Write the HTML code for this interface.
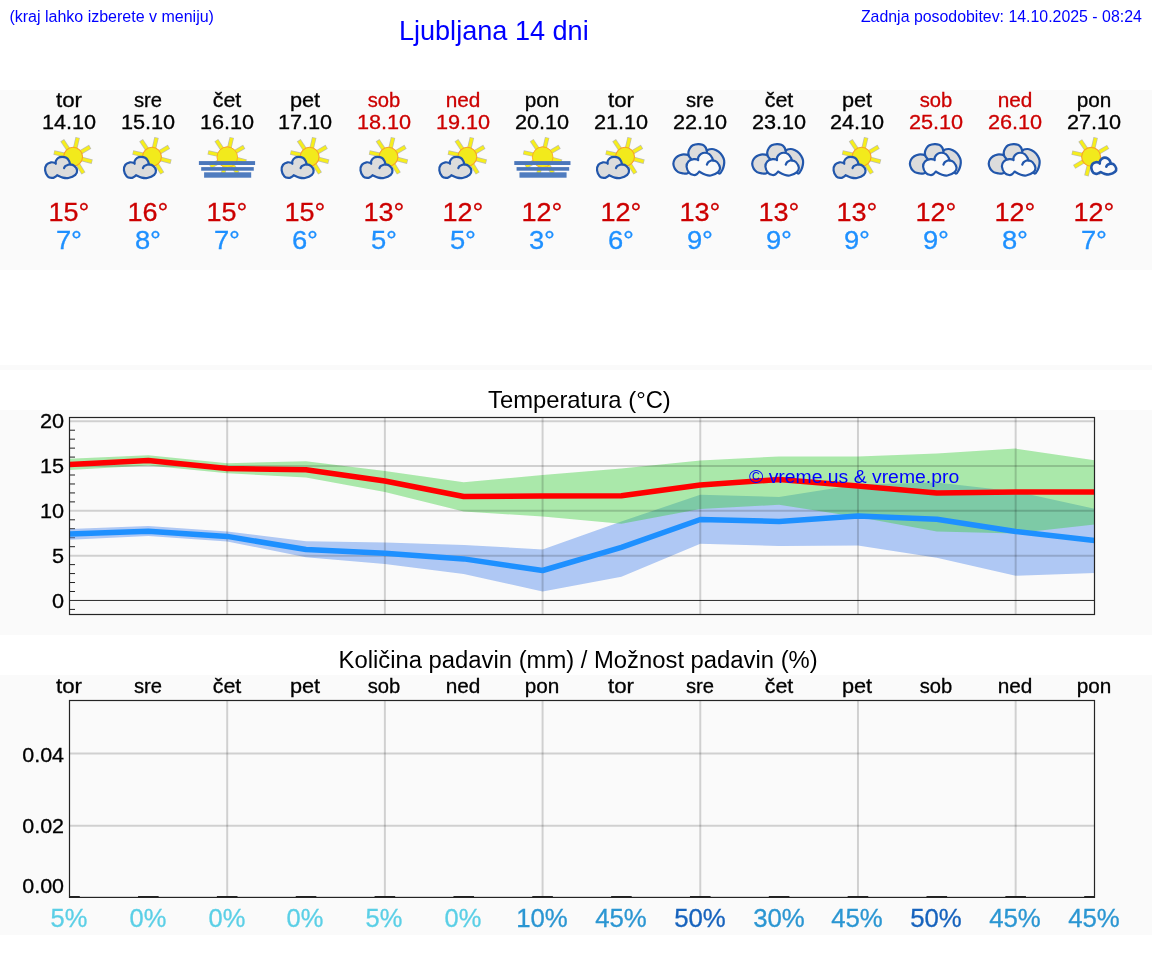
<!DOCTYPE html>
<html><head><meta charset="utf-8"><title>Ljubljana 14 dni</title>
<style>
html,body{margin:0;padding:0;background:#fff;}
body{width:1152px;height:975px;position:relative;overflow:hidden;font-family:"Liberation Sans",sans-serif;}
.p{position:absolute;left:0;width:1152px;background:#fafafa;}
.t{position:absolute;white-space:nowrap;line-height:1;margin:0;padding:0;}
.c{transform-origin:50% 50%;text-align:center;-webkit-text-stroke:0.3px;}
.r{transform-origin:100% 50%;text-align:right;-webkit-text-stroke:0.3px;}
.b{color:#0000ff;}
svg{position:absolute;left:0;top:0;}
#txt{position:absolute;left:0;top:0;width:1152px;height:975px;will-change:transform;}
</style></head><body>

<div class="p" style="top:90px;height:180px"></div>
<div class="p" style="top:365px;height:5px"></div>
<div class="p" style="top:410px;height:225px"></div>
<div class="p" style="top:675px;height:260px"></div>
<svg width="1152" height="975" viewBox="0 0 1152 975">
<defs><filter id="soft" x="-10%" y="-10%" width="120%" height="120%"><feGaussianBlur stdDeviation="0.4"/></filter></defs>
<g filter="url(#soft)">
<g transform="translate(69.50,134)"><g transform="translate(3.6,22.7)"><g stroke="#7f7f66" stroke-opacity="0.5" stroke-width="4.5"><line x1="7.7" y1="2.0" x2="19.1" y2="5.0"/><line x1="4.2" y1="6.8" x2="10.4" y2="16.7"/><line x1="-1.9" y1="7.8" x2="-4.7" y2="19.1"/><line x1="-6.9" y1="4.1" x2="-16.9" y2="10.1"/><line x1="-7.8" y1="-1.7" x2="-19.2" y2="-4.2"/><line x1="-4.4" y1="-6.7" x2="-10.9" y2="-16.4"/><line x1="1.9" y1="-7.8" x2="4.6" y2="-19.2"/><line x1="6.9" y1="-4.0" x2="17.0" y2="-9.9"/></g><g stroke="#f6ee1a" stroke-width="3.1"><line x1="7.7" y1="2.0" x2="18.5" y2="4.8"/><line x1="4.2" y1="6.8" x2="10.1" y2="16.2"/><line x1="-1.9" y1="7.8" x2="-4.5" y2="18.6"/><line x1="-6.9" y1="4.1" x2="-16.4" y2="9.8"/><line x1="-7.8" y1="-1.7" x2="-18.7" y2="-4.1"/><line x1="-4.4" y1="-6.7" x2="-10.5" y2="-15.9"/><line x1="1.9" y1="-7.8" x2="4.5" y2="-18.6"/><line x1="6.9" y1="-4.0" x2="16.5" y2="-9.6"/></g><circle r="9.45" fill="#f2ea1e" stroke="#f7a428" stroke-width="1.1"/></g><g stroke="#2056ab" stroke-width="2.2" stroke-linejoin="round" stroke-linecap="round"><path d="M-12.22,41.18C-12.63,41.50 -13.78,42.63 -14.65,43.09C-15.52,43.55 -16.27,44.05 -17.43,43.96C-18.59,43.87 -20.44,43.84 -21.60,42.57C-22.75,41.30 -24.14,38.29 -24.38,36.32C-24.61,34.35 -23.97,32.09 -22.99,30.76C-22.00,29.43 -19.86,28.65 -18.47,28.33C-17.08,28.02 -15.45,28.62 -14.65,28.85C-13.86,29.09 -13.87,29.58 -13.72,29.72C-13.70,29.26 -14.03,27.93 -13.61,26.94C-13.19,25.96 -12.22,24.48 -11.18,23.82C-10.14,23.15 -8.69,22.95 -7.36,22.95C-6.03,22.95 -4.35,23.15 -3.19,23.82C-2.04,24.48 -1.05,25.84 -0.42,26.94C0.22,28.04 0.45,29.84 0.62,30.42C1.72,30.56 3.63,30.82 4.79,31.81C5.95,32.79 7.40,34.81 7.57,36.32C7.74,37.82 7.28,39.56 5.83,40.83C4.39,42.11 0.97,43.50 -1.11,43.96C-3.19,44.42 -4.81,44.07 -6.67,43.61C-8.52,43.15 -11.30,41.59 -12.22,41.18Z" fill="#dcdcdc"/><path d="M-5.45,34.06C-5.25,33.74 -4.84,32.67 -4.24,32.15C-3.63,31.63 -2.62,31.23 -1.81,30.94C-1.00,30.65 -0.47,30.27 0.62,30.42" fill="none"/></g></g>
<g transform="translate(148.35,134)"><g transform="translate(3.6,22.7)"><g stroke="#7f7f66" stroke-opacity="0.5" stroke-width="4.5"><line x1="7.7" y1="2.0" x2="19.1" y2="5.0"/><line x1="4.2" y1="6.8" x2="10.4" y2="16.7"/><line x1="-1.9" y1="7.8" x2="-4.7" y2="19.1"/><line x1="-6.9" y1="4.1" x2="-16.9" y2="10.1"/><line x1="-7.8" y1="-1.7" x2="-19.2" y2="-4.2"/><line x1="-4.4" y1="-6.7" x2="-10.9" y2="-16.4"/><line x1="1.9" y1="-7.8" x2="4.6" y2="-19.2"/><line x1="6.9" y1="-4.0" x2="17.0" y2="-9.9"/></g><g stroke="#f6ee1a" stroke-width="3.1"><line x1="7.7" y1="2.0" x2="18.5" y2="4.8"/><line x1="4.2" y1="6.8" x2="10.1" y2="16.2"/><line x1="-1.9" y1="7.8" x2="-4.5" y2="18.6"/><line x1="-6.9" y1="4.1" x2="-16.4" y2="9.8"/><line x1="-7.8" y1="-1.7" x2="-18.7" y2="-4.1"/><line x1="-4.4" y1="-6.7" x2="-10.5" y2="-15.9"/><line x1="1.9" y1="-7.8" x2="4.5" y2="-18.6"/><line x1="6.9" y1="-4.0" x2="16.5" y2="-9.6"/></g><circle r="9.45" fill="#f2ea1e" stroke="#f7a428" stroke-width="1.1"/></g><g stroke="#2056ab" stroke-width="2.2" stroke-linejoin="round" stroke-linecap="round"><path d="M-12.22,41.18C-12.63,41.50 -13.78,42.63 -14.65,43.09C-15.52,43.55 -16.27,44.05 -17.43,43.96C-18.59,43.87 -20.44,43.84 -21.60,42.57C-22.75,41.30 -24.14,38.29 -24.38,36.32C-24.61,34.35 -23.97,32.09 -22.99,30.76C-22.00,29.43 -19.86,28.65 -18.47,28.33C-17.08,28.02 -15.45,28.62 -14.65,28.85C-13.86,29.09 -13.87,29.58 -13.72,29.72C-13.70,29.26 -14.03,27.93 -13.61,26.94C-13.19,25.96 -12.22,24.48 -11.18,23.82C-10.14,23.15 -8.69,22.95 -7.36,22.95C-6.03,22.95 -4.35,23.15 -3.19,23.82C-2.04,24.48 -1.05,25.84 -0.42,26.94C0.22,28.04 0.45,29.84 0.62,30.42C1.72,30.56 3.63,30.82 4.79,31.81C5.95,32.79 7.40,34.81 7.57,36.32C7.74,37.82 7.28,39.56 5.83,40.83C4.39,42.11 0.97,43.50 -1.11,43.96C-3.19,44.42 -4.81,44.07 -6.67,43.61C-8.52,43.15 -11.30,41.59 -12.22,41.18Z" fill="#dcdcdc"/><path d="M-5.45,34.06C-5.25,33.74 -4.84,32.67 -4.24,32.15C-3.63,31.63 -2.62,31.23 -1.81,30.94C-1.00,30.65 -0.47,30.27 0.62,30.42" fill="none"/></g></g>
<g transform="translate(227.19,134)"><g transform="translate(0,22.6)"><g stroke="#7f7f66" stroke-opacity="0.5" stroke-width="4.5"><line x1="7.7" y1="2.0" x2="19.1" y2="5.0"/><line x1="4.2" y1="6.8" x2="10.4" y2="16.7"/><line x1="-1.9" y1="7.8" x2="-4.7" y2="19.1"/><line x1="-6.9" y1="4.1" x2="-16.9" y2="10.1"/><line x1="-7.8" y1="-1.7" x2="-19.2" y2="-4.2"/><line x1="-4.4" y1="-6.7" x2="-10.9" y2="-16.4"/><line x1="1.9" y1="-7.8" x2="4.6" y2="-19.2"/><line x1="6.9" y1="-4.0" x2="17.0" y2="-9.9"/></g><g stroke="#f6ee1a" stroke-width="3.1"><line x1="7.7" y1="2.0" x2="18.5" y2="4.8"/><line x1="4.2" y1="6.8" x2="10.1" y2="16.2"/><line x1="-1.9" y1="7.8" x2="-4.5" y2="18.6"/><line x1="-6.9" y1="4.1" x2="-16.4" y2="9.8"/><line x1="-7.8" y1="-1.7" x2="-18.7" y2="-4.1"/><line x1="-4.4" y1="-6.7" x2="-10.5" y2="-15.9"/><line x1="1.9" y1="-7.8" x2="4.5" y2="-18.6"/><line x1="6.9" y1="-4.0" x2="16.5" y2="-9.6"/></g><circle r="9.45" fill="#f2ea1e" stroke="#f7a428" stroke-width="1.1"/></g><circle cx="0.1" cy="23.2" r="10.3" fill="#f2ea1e" stroke="#f8a92a" stroke-width="0.9"/><rect x="-28.3" y="27.1" width="56.2" height="3.9" fill="#4b77bb"/><rect x="-26.0" y="33.1" width="52.6" height="3.6" fill="#4b77bb"/><rect x="-23.1" y="38.3" width="47.1" height="5.4" fill="#4f7cbf"/></g>
<g transform="translate(306.04,134)"><g transform="translate(3.6,22.7)"><g stroke="#7f7f66" stroke-opacity="0.5" stroke-width="4.5"><line x1="7.7" y1="2.0" x2="19.1" y2="5.0"/><line x1="4.2" y1="6.8" x2="10.4" y2="16.7"/><line x1="-1.9" y1="7.8" x2="-4.7" y2="19.1"/><line x1="-6.9" y1="4.1" x2="-16.9" y2="10.1"/><line x1="-7.8" y1="-1.7" x2="-19.2" y2="-4.2"/><line x1="-4.4" y1="-6.7" x2="-10.9" y2="-16.4"/><line x1="1.9" y1="-7.8" x2="4.6" y2="-19.2"/><line x1="6.9" y1="-4.0" x2="17.0" y2="-9.9"/></g><g stroke="#f6ee1a" stroke-width="3.1"><line x1="7.7" y1="2.0" x2="18.5" y2="4.8"/><line x1="4.2" y1="6.8" x2="10.1" y2="16.2"/><line x1="-1.9" y1="7.8" x2="-4.5" y2="18.6"/><line x1="-6.9" y1="4.1" x2="-16.4" y2="9.8"/><line x1="-7.8" y1="-1.7" x2="-18.7" y2="-4.1"/><line x1="-4.4" y1="-6.7" x2="-10.5" y2="-15.9"/><line x1="1.9" y1="-7.8" x2="4.5" y2="-18.6"/><line x1="6.9" y1="-4.0" x2="16.5" y2="-9.6"/></g><circle r="9.45" fill="#f2ea1e" stroke="#f7a428" stroke-width="1.1"/></g><g stroke="#2056ab" stroke-width="2.2" stroke-linejoin="round" stroke-linecap="round"><path d="M-12.22,41.18C-12.63,41.50 -13.78,42.63 -14.65,43.09C-15.52,43.55 -16.27,44.05 -17.43,43.96C-18.59,43.87 -20.44,43.84 -21.60,42.57C-22.75,41.30 -24.14,38.29 -24.38,36.32C-24.61,34.35 -23.97,32.09 -22.99,30.76C-22.00,29.43 -19.86,28.65 -18.47,28.33C-17.08,28.02 -15.45,28.62 -14.65,28.85C-13.86,29.09 -13.87,29.58 -13.72,29.72C-13.70,29.26 -14.03,27.93 -13.61,26.94C-13.19,25.96 -12.22,24.48 -11.18,23.82C-10.14,23.15 -8.69,22.95 -7.36,22.95C-6.03,22.95 -4.35,23.15 -3.19,23.82C-2.04,24.48 -1.05,25.84 -0.42,26.94C0.22,28.04 0.45,29.84 0.62,30.42C1.72,30.56 3.63,30.82 4.79,31.81C5.95,32.79 7.40,34.81 7.57,36.32C7.74,37.82 7.28,39.56 5.83,40.83C4.39,42.11 0.97,43.50 -1.11,43.96C-3.19,44.42 -4.81,44.07 -6.67,43.61C-8.52,43.15 -11.30,41.59 -12.22,41.18Z" fill="#dcdcdc"/><path d="M-5.45,34.06C-5.25,33.74 -4.84,32.67 -4.24,32.15C-3.63,31.63 -2.62,31.23 -1.81,30.94C-1.00,30.65 -0.47,30.27 0.62,30.42" fill="none"/></g></g>
<g transform="translate(384.88,134)"><g transform="translate(3.6,22.7)"><g stroke="#7f7f66" stroke-opacity="0.5" stroke-width="4.5"><line x1="7.7" y1="2.0" x2="19.1" y2="5.0"/><line x1="4.2" y1="6.8" x2="10.4" y2="16.7"/><line x1="-1.9" y1="7.8" x2="-4.7" y2="19.1"/><line x1="-6.9" y1="4.1" x2="-16.9" y2="10.1"/><line x1="-7.8" y1="-1.7" x2="-19.2" y2="-4.2"/><line x1="-4.4" y1="-6.7" x2="-10.9" y2="-16.4"/><line x1="1.9" y1="-7.8" x2="4.6" y2="-19.2"/><line x1="6.9" y1="-4.0" x2="17.0" y2="-9.9"/></g><g stroke="#f6ee1a" stroke-width="3.1"><line x1="7.7" y1="2.0" x2="18.5" y2="4.8"/><line x1="4.2" y1="6.8" x2="10.1" y2="16.2"/><line x1="-1.9" y1="7.8" x2="-4.5" y2="18.6"/><line x1="-6.9" y1="4.1" x2="-16.4" y2="9.8"/><line x1="-7.8" y1="-1.7" x2="-18.7" y2="-4.1"/><line x1="-4.4" y1="-6.7" x2="-10.5" y2="-15.9"/><line x1="1.9" y1="-7.8" x2="4.5" y2="-18.6"/><line x1="6.9" y1="-4.0" x2="16.5" y2="-9.6"/></g><circle r="9.45" fill="#f2ea1e" stroke="#f7a428" stroke-width="1.1"/></g><g stroke="#2056ab" stroke-width="2.2" stroke-linejoin="round" stroke-linecap="round"><path d="M-12.22,41.18C-12.63,41.50 -13.78,42.63 -14.65,43.09C-15.52,43.55 -16.27,44.05 -17.43,43.96C-18.59,43.87 -20.44,43.84 -21.60,42.57C-22.75,41.30 -24.14,38.29 -24.38,36.32C-24.61,34.35 -23.97,32.09 -22.99,30.76C-22.00,29.43 -19.86,28.65 -18.47,28.33C-17.08,28.02 -15.45,28.62 -14.65,28.85C-13.86,29.09 -13.87,29.58 -13.72,29.72C-13.70,29.26 -14.03,27.93 -13.61,26.94C-13.19,25.96 -12.22,24.48 -11.18,23.82C-10.14,23.15 -8.69,22.95 -7.36,22.95C-6.03,22.95 -4.35,23.15 -3.19,23.82C-2.04,24.48 -1.05,25.84 -0.42,26.94C0.22,28.04 0.45,29.84 0.62,30.42C1.72,30.56 3.63,30.82 4.79,31.81C5.95,32.79 7.40,34.81 7.57,36.32C7.74,37.82 7.28,39.56 5.83,40.83C4.39,42.11 0.97,43.50 -1.11,43.96C-3.19,44.42 -4.81,44.07 -6.67,43.61C-8.52,43.15 -11.30,41.59 -12.22,41.18Z" fill="#dcdcdc"/><path d="M-5.45,34.06C-5.25,33.74 -4.84,32.67 -4.24,32.15C-3.63,31.63 -2.62,31.23 -1.81,30.94C-1.00,30.65 -0.47,30.27 0.62,30.42" fill="none"/></g></g>
<g transform="translate(463.73,134)"><g transform="translate(3.6,22.7)"><g stroke="#7f7f66" stroke-opacity="0.5" stroke-width="4.5"><line x1="7.7" y1="2.0" x2="19.1" y2="5.0"/><line x1="4.2" y1="6.8" x2="10.4" y2="16.7"/><line x1="-1.9" y1="7.8" x2="-4.7" y2="19.1"/><line x1="-6.9" y1="4.1" x2="-16.9" y2="10.1"/><line x1="-7.8" y1="-1.7" x2="-19.2" y2="-4.2"/><line x1="-4.4" y1="-6.7" x2="-10.9" y2="-16.4"/><line x1="1.9" y1="-7.8" x2="4.6" y2="-19.2"/><line x1="6.9" y1="-4.0" x2="17.0" y2="-9.9"/></g><g stroke="#f6ee1a" stroke-width="3.1"><line x1="7.7" y1="2.0" x2="18.5" y2="4.8"/><line x1="4.2" y1="6.8" x2="10.1" y2="16.2"/><line x1="-1.9" y1="7.8" x2="-4.5" y2="18.6"/><line x1="-6.9" y1="4.1" x2="-16.4" y2="9.8"/><line x1="-7.8" y1="-1.7" x2="-18.7" y2="-4.1"/><line x1="-4.4" y1="-6.7" x2="-10.5" y2="-15.9"/><line x1="1.9" y1="-7.8" x2="4.5" y2="-18.6"/><line x1="6.9" y1="-4.0" x2="16.5" y2="-9.6"/></g><circle r="9.45" fill="#f2ea1e" stroke="#f7a428" stroke-width="1.1"/></g><g stroke="#2056ab" stroke-width="2.2" stroke-linejoin="round" stroke-linecap="round"><path d="M-12.22,41.18C-12.63,41.50 -13.78,42.63 -14.65,43.09C-15.52,43.55 -16.27,44.05 -17.43,43.96C-18.59,43.87 -20.44,43.84 -21.60,42.57C-22.75,41.30 -24.14,38.29 -24.38,36.32C-24.61,34.35 -23.97,32.09 -22.99,30.76C-22.00,29.43 -19.86,28.65 -18.47,28.33C-17.08,28.02 -15.45,28.62 -14.65,28.85C-13.86,29.09 -13.87,29.58 -13.72,29.72C-13.70,29.26 -14.03,27.93 -13.61,26.94C-13.19,25.96 -12.22,24.48 -11.18,23.82C-10.14,23.15 -8.69,22.95 -7.36,22.95C-6.03,22.95 -4.35,23.15 -3.19,23.82C-2.04,24.48 -1.05,25.84 -0.42,26.94C0.22,28.04 0.45,29.84 0.62,30.42C1.72,30.56 3.63,30.82 4.79,31.81C5.95,32.79 7.40,34.81 7.57,36.32C7.74,37.82 7.28,39.56 5.83,40.83C4.39,42.11 0.97,43.50 -1.11,43.96C-3.19,44.42 -4.81,44.07 -6.67,43.61C-8.52,43.15 -11.30,41.59 -12.22,41.18Z" fill="#dcdcdc"/><path d="M-5.45,34.06C-5.25,33.74 -4.84,32.67 -4.24,32.15C-3.63,31.63 -2.62,31.23 -1.81,30.94C-1.00,30.65 -0.47,30.27 0.62,30.42" fill="none"/></g></g>
<g transform="translate(542.58,134)"><g transform="translate(0,22.6)"><g stroke="#7f7f66" stroke-opacity="0.5" stroke-width="4.5"><line x1="7.7" y1="2.0" x2="19.1" y2="5.0"/><line x1="4.2" y1="6.8" x2="10.4" y2="16.7"/><line x1="-1.9" y1="7.8" x2="-4.7" y2="19.1"/><line x1="-6.9" y1="4.1" x2="-16.9" y2="10.1"/><line x1="-7.8" y1="-1.7" x2="-19.2" y2="-4.2"/><line x1="-4.4" y1="-6.7" x2="-10.9" y2="-16.4"/><line x1="1.9" y1="-7.8" x2="4.6" y2="-19.2"/><line x1="6.9" y1="-4.0" x2="17.0" y2="-9.9"/></g><g stroke="#f6ee1a" stroke-width="3.1"><line x1="7.7" y1="2.0" x2="18.5" y2="4.8"/><line x1="4.2" y1="6.8" x2="10.1" y2="16.2"/><line x1="-1.9" y1="7.8" x2="-4.5" y2="18.6"/><line x1="-6.9" y1="4.1" x2="-16.4" y2="9.8"/><line x1="-7.8" y1="-1.7" x2="-18.7" y2="-4.1"/><line x1="-4.4" y1="-6.7" x2="-10.5" y2="-15.9"/><line x1="1.9" y1="-7.8" x2="4.5" y2="-18.6"/><line x1="6.9" y1="-4.0" x2="16.5" y2="-9.6"/></g><circle r="9.45" fill="#f2ea1e" stroke="#f7a428" stroke-width="1.1"/></g><circle cx="0.1" cy="23.2" r="10.3" fill="#f2ea1e" stroke="#f8a92a" stroke-width="0.9"/><rect x="-28.3" y="27.1" width="56.2" height="3.9" fill="#4b77bb"/><rect x="-26.0" y="33.1" width="52.6" height="3.6" fill="#4b77bb"/><rect x="-23.1" y="38.3" width="47.1" height="5.4" fill="#4f7cbf"/></g>
<g transform="translate(621.42,134)"><g transform="translate(3.6,22.7)"><g stroke="#7f7f66" stroke-opacity="0.5" stroke-width="4.5"><line x1="7.7" y1="2.0" x2="19.1" y2="5.0"/><line x1="4.2" y1="6.8" x2="10.4" y2="16.7"/><line x1="-1.9" y1="7.8" x2="-4.7" y2="19.1"/><line x1="-6.9" y1="4.1" x2="-16.9" y2="10.1"/><line x1="-7.8" y1="-1.7" x2="-19.2" y2="-4.2"/><line x1="-4.4" y1="-6.7" x2="-10.9" y2="-16.4"/><line x1="1.9" y1="-7.8" x2="4.6" y2="-19.2"/><line x1="6.9" y1="-4.0" x2="17.0" y2="-9.9"/></g><g stroke="#f6ee1a" stroke-width="3.1"><line x1="7.7" y1="2.0" x2="18.5" y2="4.8"/><line x1="4.2" y1="6.8" x2="10.1" y2="16.2"/><line x1="-1.9" y1="7.8" x2="-4.5" y2="18.6"/><line x1="-6.9" y1="4.1" x2="-16.4" y2="9.8"/><line x1="-7.8" y1="-1.7" x2="-18.7" y2="-4.1"/><line x1="-4.4" y1="-6.7" x2="-10.5" y2="-15.9"/><line x1="1.9" y1="-7.8" x2="4.5" y2="-18.6"/><line x1="6.9" y1="-4.0" x2="16.5" y2="-9.6"/></g><circle r="9.45" fill="#f2ea1e" stroke="#f7a428" stroke-width="1.1"/></g><g stroke="#2056ab" stroke-width="2.2" stroke-linejoin="round" stroke-linecap="round"><path d="M-12.22,41.18C-12.63,41.50 -13.78,42.63 -14.65,43.09C-15.52,43.55 -16.27,44.05 -17.43,43.96C-18.59,43.87 -20.44,43.84 -21.60,42.57C-22.75,41.30 -24.14,38.29 -24.38,36.32C-24.61,34.35 -23.97,32.09 -22.99,30.76C-22.00,29.43 -19.86,28.65 -18.47,28.33C-17.08,28.02 -15.45,28.62 -14.65,28.85C-13.86,29.09 -13.87,29.58 -13.72,29.72C-13.70,29.26 -14.03,27.93 -13.61,26.94C-13.19,25.96 -12.22,24.48 -11.18,23.82C-10.14,23.15 -8.69,22.95 -7.36,22.95C-6.03,22.95 -4.35,23.15 -3.19,23.82C-2.04,24.48 -1.05,25.84 -0.42,26.94C0.22,28.04 0.45,29.84 0.62,30.42C1.72,30.56 3.63,30.82 4.79,31.81C5.95,32.79 7.40,34.81 7.57,36.32C7.74,37.82 7.28,39.56 5.83,40.83C4.39,42.11 0.97,43.50 -1.11,43.96C-3.19,44.42 -4.81,44.07 -6.67,43.61C-8.52,43.15 -11.30,41.59 -12.22,41.18Z" fill="#dcdcdc"/><path d="M-5.45,34.06C-5.25,33.74 -4.84,32.67 -4.24,32.15C-3.63,31.63 -2.62,31.23 -1.81,30.94C-1.00,30.65 -0.47,30.27 0.62,30.42" fill="none"/></g></g>
<g transform="translate(700.27,134)"><g stroke="#2056ab" stroke-width="2.2" stroke-linejoin="round" stroke-linecap="round"><path d="M-9.90,37.11C-10.47,37.52 -12.09,39.16 -13.31,39.54C-14.52,39.92 -15.74,39.64 -17.20,39.40C-18.65,39.16 -20.68,38.87 -22.06,38.09C-23.44,37.30 -24.65,36.06 -25.46,34.68C-26.27,33.31 -26.88,31.36 -26.92,29.82C-26.96,28.28 -26.43,26.70 -25.70,25.45C-24.97,24.19 -23.80,23.10 -22.54,22.29C-21.29,21.48 -19.63,20.85 -18.17,20.58C-16.71,20.32 -14.89,20.54 -13.79,20.68C-12.70,20.83 -11.97,21.33 -11.61,21.46C-11.65,20.91 -12.05,19.35 -11.85,18.15C-11.65,16.95 -11.12,15.40 -10.39,14.26C-9.66,13.13 -8.85,12.04 -7.47,11.35C-6.10,10.66 -3.75,10.21 -2.13,10.13C-0.51,10.05 1.03,10.33 2.25,10.86C3.46,11.39 4.45,12.36 5.17,13.29C5.88,14.22 6.30,15.93 6.53,16.45C7.03,16.25 8.39,15.44 9.54,15.24C10.69,15.03 11.97,14.83 13.43,15.24C14.89,15.64 16.83,16.53 18.29,17.67C19.75,18.80 21.25,20.58 22.18,22.04C23.11,23.50 23.64,24.88 23.88,26.42C24.13,27.96 23.92,29.74 23.64,31.28C23.36,32.82 22.91,34.28 22.18,35.65C21.45,37.03 20.56,39.63 19.26,39.54C17.97,39.46 15.21,35.90 14.40,35.17Z" fill="#dcdcdc"/><path d="M-11.61,21.46C-11.44,21.76 -11.04,22.72 -10.63,23.26C-10.23,23.80 -9.42,24.47 -9.17,24.72M6.53,16.45C6.54,16.65 6.65,17.26 6.62,17.67C6.60,18.07 6.42,18.68 6.38,18.88" fill="none"/></g><g stroke="#2056ab" stroke-width="2.2" stroke-linejoin="round" stroke-linecap="round"><path d="M-1.01,37.60C-1.44,38.05 -2.67,39.71 -3.58,40.27C-4.50,40.84 -5.29,41.20 -6.50,41.00C-7.72,40.80 -9.68,40.44 -10.88,39.06C-12.08,37.68 -13.53,34.68 -13.70,32.74C-13.86,30.79 -13.05,28.65 -11.85,27.39C-10.65,26.13 -7.96,25.51 -6.50,25.20C-5.04,24.89 -3.83,25.38 -3.10,25.54C-2.37,25.71 -2.29,26.07 -2.13,26.18C-2.09,25.65 -2.37,24.07 -1.88,23.02C-1.40,21.96 -0.30,20.57 0.79,19.86C1.88,19.14 3.30,18.70 4.68,18.74C6.06,18.78 7.84,19.22 9.06,20.10C10.27,20.97 11.41,22.93 11.97,23.99C12.54,25.04 12.38,26.01 12.46,26.42C14.00,26.56 15.70,26.89 16.83,28.12C17.97,29.35 19.59,32.05 19.75,33.71C19.91,35.37 19.35,36.79 17.81,38.09C16.27,39.38 12.70,41.08 10.51,41.49C8.33,41.89 6.60,41.16 4.68,40.52C2.76,39.87 -0.06,38.09 -1.01,37.60Z" fill="#fafafa"/><path d="M6.62,30.55C6.87,30.15 7.43,28.77 8.08,28.12C8.73,27.47 9.70,26.96 10.51,26.66C11.32,26.36 11.89,26.08 12.94,26.32" fill="none"/></g></g>
<g transform="translate(779.12,134)"><g stroke="#2056ab" stroke-width="2.2" stroke-linejoin="round" stroke-linecap="round"><path d="M-9.90,37.11C-10.47,37.52 -12.09,39.16 -13.31,39.54C-14.52,39.92 -15.74,39.64 -17.20,39.40C-18.65,39.16 -20.68,38.87 -22.06,38.09C-23.44,37.30 -24.65,36.06 -25.46,34.68C-26.27,33.31 -26.88,31.36 -26.92,29.82C-26.96,28.28 -26.43,26.70 -25.70,25.45C-24.97,24.19 -23.80,23.10 -22.54,22.29C-21.29,21.48 -19.63,20.85 -18.17,20.58C-16.71,20.32 -14.89,20.54 -13.79,20.68C-12.70,20.83 -11.97,21.33 -11.61,21.46C-11.65,20.91 -12.05,19.35 -11.85,18.15C-11.65,16.95 -11.12,15.40 -10.39,14.26C-9.66,13.13 -8.85,12.04 -7.47,11.35C-6.10,10.66 -3.75,10.21 -2.13,10.13C-0.51,10.05 1.03,10.33 2.25,10.86C3.46,11.39 4.45,12.36 5.17,13.29C5.88,14.22 6.30,15.93 6.53,16.45C7.03,16.25 8.39,15.44 9.54,15.24C10.69,15.03 11.97,14.83 13.43,15.24C14.89,15.64 16.83,16.53 18.29,17.67C19.75,18.80 21.25,20.58 22.18,22.04C23.11,23.50 23.64,24.88 23.88,26.42C24.13,27.96 23.92,29.74 23.64,31.28C23.36,32.82 22.91,34.28 22.18,35.65C21.45,37.03 20.56,39.63 19.26,39.54C17.97,39.46 15.21,35.90 14.40,35.17Z" fill="#dcdcdc"/><path d="M-11.61,21.46C-11.44,21.76 -11.04,22.72 -10.63,23.26C-10.23,23.80 -9.42,24.47 -9.17,24.72M6.53,16.45C6.54,16.65 6.65,17.26 6.62,17.67C6.60,18.07 6.42,18.68 6.38,18.88" fill="none"/></g><g stroke="#2056ab" stroke-width="2.2" stroke-linejoin="round" stroke-linecap="round"><path d="M-1.01,37.60C-1.44,38.05 -2.67,39.71 -3.58,40.27C-4.50,40.84 -5.29,41.20 -6.50,41.00C-7.72,40.80 -9.68,40.44 -10.88,39.06C-12.08,37.68 -13.53,34.68 -13.70,32.74C-13.86,30.79 -13.05,28.65 -11.85,27.39C-10.65,26.13 -7.96,25.51 -6.50,25.20C-5.04,24.89 -3.83,25.38 -3.10,25.54C-2.37,25.71 -2.29,26.07 -2.13,26.18C-2.09,25.65 -2.37,24.07 -1.88,23.02C-1.40,21.96 -0.30,20.57 0.79,19.86C1.88,19.14 3.30,18.70 4.68,18.74C6.06,18.78 7.84,19.22 9.06,20.10C10.27,20.97 11.41,22.93 11.97,23.99C12.54,25.04 12.38,26.01 12.46,26.42C14.00,26.56 15.70,26.89 16.83,28.12C17.97,29.35 19.59,32.05 19.75,33.71C19.91,35.37 19.35,36.79 17.81,38.09C16.27,39.38 12.70,41.08 10.51,41.49C8.33,41.89 6.60,41.16 4.68,40.52C2.76,39.87 -0.06,38.09 -1.01,37.60Z" fill="#fafafa"/><path d="M6.62,30.55C6.87,30.15 7.43,28.77 8.08,28.12C8.73,27.47 9.70,26.96 10.51,26.66C11.32,26.36 11.89,26.08 12.94,26.32" fill="none"/></g></g>
<g transform="translate(857.96,134)"><g transform="translate(3.6,22.7)"><g stroke="#7f7f66" stroke-opacity="0.5" stroke-width="4.5"><line x1="7.7" y1="2.0" x2="19.1" y2="5.0"/><line x1="4.2" y1="6.8" x2="10.4" y2="16.7"/><line x1="-1.9" y1="7.8" x2="-4.7" y2="19.1"/><line x1="-6.9" y1="4.1" x2="-16.9" y2="10.1"/><line x1="-7.8" y1="-1.7" x2="-19.2" y2="-4.2"/><line x1="-4.4" y1="-6.7" x2="-10.9" y2="-16.4"/><line x1="1.9" y1="-7.8" x2="4.6" y2="-19.2"/><line x1="6.9" y1="-4.0" x2="17.0" y2="-9.9"/></g><g stroke="#f6ee1a" stroke-width="3.1"><line x1="7.7" y1="2.0" x2="18.5" y2="4.8"/><line x1="4.2" y1="6.8" x2="10.1" y2="16.2"/><line x1="-1.9" y1="7.8" x2="-4.5" y2="18.6"/><line x1="-6.9" y1="4.1" x2="-16.4" y2="9.8"/><line x1="-7.8" y1="-1.7" x2="-18.7" y2="-4.1"/><line x1="-4.4" y1="-6.7" x2="-10.5" y2="-15.9"/><line x1="1.9" y1="-7.8" x2="4.5" y2="-18.6"/><line x1="6.9" y1="-4.0" x2="16.5" y2="-9.6"/></g><circle r="9.45" fill="#f2ea1e" stroke="#f7a428" stroke-width="1.1"/></g><g stroke="#2056ab" stroke-width="2.2" stroke-linejoin="round" stroke-linecap="round"><path d="M-12.22,41.18C-12.63,41.50 -13.78,42.63 -14.65,43.09C-15.52,43.55 -16.27,44.05 -17.43,43.96C-18.59,43.87 -20.44,43.84 -21.60,42.57C-22.75,41.30 -24.14,38.29 -24.38,36.32C-24.61,34.35 -23.97,32.09 -22.99,30.76C-22.00,29.43 -19.86,28.65 -18.47,28.33C-17.08,28.02 -15.45,28.62 -14.65,28.85C-13.86,29.09 -13.87,29.58 -13.72,29.72C-13.70,29.26 -14.03,27.93 -13.61,26.94C-13.19,25.96 -12.22,24.48 -11.18,23.82C-10.14,23.15 -8.69,22.95 -7.36,22.95C-6.03,22.95 -4.35,23.15 -3.19,23.82C-2.04,24.48 -1.05,25.84 -0.42,26.94C0.22,28.04 0.45,29.84 0.62,30.42C1.72,30.56 3.63,30.82 4.79,31.81C5.95,32.79 7.40,34.81 7.57,36.32C7.74,37.82 7.28,39.56 5.83,40.83C4.39,42.11 0.97,43.50 -1.11,43.96C-3.19,44.42 -4.81,44.07 -6.67,43.61C-8.52,43.15 -11.30,41.59 -12.22,41.18Z" fill="#dcdcdc"/><path d="M-5.45,34.06C-5.25,33.74 -4.84,32.67 -4.24,32.15C-3.63,31.63 -2.62,31.23 -1.81,30.94C-1.00,30.65 -0.47,30.27 0.62,30.42" fill="none"/></g></g>
<g transform="translate(936.81,134)"><g stroke="#2056ab" stroke-width="2.2" stroke-linejoin="round" stroke-linecap="round"><path d="M-9.90,37.11C-10.47,37.52 -12.09,39.16 -13.31,39.54C-14.52,39.92 -15.74,39.64 -17.20,39.40C-18.65,39.16 -20.68,38.87 -22.06,38.09C-23.44,37.30 -24.65,36.06 -25.46,34.68C-26.27,33.31 -26.88,31.36 -26.92,29.82C-26.96,28.28 -26.43,26.70 -25.70,25.45C-24.97,24.19 -23.80,23.10 -22.54,22.29C-21.29,21.48 -19.63,20.85 -18.17,20.58C-16.71,20.32 -14.89,20.54 -13.79,20.68C-12.70,20.83 -11.97,21.33 -11.61,21.46C-11.65,20.91 -12.05,19.35 -11.85,18.15C-11.65,16.95 -11.12,15.40 -10.39,14.26C-9.66,13.13 -8.85,12.04 -7.47,11.35C-6.10,10.66 -3.75,10.21 -2.13,10.13C-0.51,10.05 1.03,10.33 2.25,10.86C3.46,11.39 4.45,12.36 5.17,13.29C5.88,14.22 6.30,15.93 6.53,16.45C7.03,16.25 8.39,15.44 9.54,15.24C10.69,15.03 11.97,14.83 13.43,15.24C14.89,15.64 16.83,16.53 18.29,17.67C19.75,18.80 21.25,20.58 22.18,22.04C23.11,23.50 23.64,24.88 23.88,26.42C24.13,27.96 23.92,29.74 23.64,31.28C23.36,32.82 22.91,34.28 22.18,35.65C21.45,37.03 20.56,39.63 19.26,39.54C17.97,39.46 15.21,35.90 14.40,35.17Z" fill="#dcdcdc"/><path d="M-11.61,21.46C-11.44,21.76 -11.04,22.72 -10.63,23.26C-10.23,23.80 -9.42,24.47 -9.17,24.72M6.53,16.45C6.54,16.65 6.65,17.26 6.62,17.67C6.60,18.07 6.42,18.68 6.38,18.88" fill="none"/></g><g stroke="#2056ab" stroke-width="2.2" stroke-linejoin="round" stroke-linecap="round"><path d="M-1.01,37.60C-1.44,38.05 -2.67,39.71 -3.58,40.27C-4.50,40.84 -5.29,41.20 -6.50,41.00C-7.72,40.80 -9.68,40.44 -10.88,39.06C-12.08,37.68 -13.53,34.68 -13.70,32.74C-13.86,30.79 -13.05,28.65 -11.85,27.39C-10.65,26.13 -7.96,25.51 -6.50,25.20C-5.04,24.89 -3.83,25.38 -3.10,25.54C-2.37,25.71 -2.29,26.07 -2.13,26.18C-2.09,25.65 -2.37,24.07 -1.88,23.02C-1.40,21.96 -0.30,20.57 0.79,19.86C1.88,19.14 3.30,18.70 4.68,18.74C6.06,18.78 7.84,19.22 9.06,20.10C10.27,20.97 11.41,22.93 11.97,23.99C12.54,25.04 12.38,26.01 12.46,26.42C14.00,26.56 15.70,26.89 16.83,28.12C17.97,29.35 19.59,32.05 19.75,33.71C19.91,35.37 19.35,36.79 17.81,38.09C16.27,39.38 12.70,41.08 10.51,41.49C8.33,41.89 6.60,41.16 4.68,40.52C2.76,39.87 -0.06,38.09 -1.01,37.60Z" fill="#fafafa"/><path d="M6.62,30.55C6.87,30.15 7.43,28.77 8.08,28.12C8.73,27.47 9.70,26.96 10.51,26.66C11.32,26.36 11.89,26.08 12.94,26.32" fill="none"/></g></g>
<g transform="translate(1015.65,134)"><g stroke="#2056ab" stroke-width="2.2" stroke-linejoin="round" stroke-linecap="round"><path d="M-9.90,37.11C-10.47,37.52 -12.09,39.16 -13.31,39.54C-14.52,39.92 -15.74,39.64 -17.20,39.40C-18.65,39.16 -20.68,38.87 -22.06,38.09C-23.44,37.30 -24.65,36.06 -25.46,34.68C-26.27,33.31 -26.88,31.36 -26.92,29.82C-26.96,28.28 -26.43,26.70 -25.70,25.45C-24.97,24.19 -23.80,23.10 -22.54,22.29C-21.29,21.48 -19.63,20.85 -18.17,20.58C-16.71,20.32 -14.89,20.54 -13.79,20.68C-12.70,20.83 -11.97,21.33 -11.61,21.46C-11.65,20.91 -12.05,19.35 -11.85,18.15C-11.65,16.95 -11.12,15.40 -10.39,14.26C-9.66,13.13 -8.85,12.04 -7.47,11.35C-6.10,10.66 -3.75,10.21 -2.13,10.13C-0.51,10.05 1.03,10.33 2.25,10.86C3.46,11.39 4.45,12.36 5.17,13.29C5.88,14.22 6.30,15.93 6.53,16.45C7.03,16.25 8.39,15.44 9.54,15.24C10.69,15.03 11.97,14.83 13.43,15.24C14.89,15.64 16.83,16.53 18.29,17.67C19.75,18.80 21.25,20.58 22.18,22.04C23.11,23.50 23.64,24.88 23.88,26.42C24.13,27.96 23.92,29.74 23.64,31.28C23.36,32.82 22.91,34.28 22.18,35.65C21.45,37.03 20.56,39.63 19.26,39.54C17.97,39.46 15.21,35.90 14.40,35.17Z" fill="#dcdcdc"/><path d="M-11.61,21.46C-11.44,21.76 -11.04,22.72 -10.63,23.26C-10.23,23.80 -9.42,24.47 -9.17,24.72M6.53,16.45C6.54,16.65 6.65,17.26 6.62,17.67C6.60,18.07 6.42,18.68 6.38,18.88" fill="none"/></g><g stroke="#2056ab" stroke-width="2.2" stroke-linejoin="round" stroke-linecap="round"><path d="M-1.01,37.60C-1.44,38.05 -2.67,39.71 -3.58,40.27C-4.50,40.84 -5.29,41.20 -6.50,41.00C-7.72,40.80 -9.68,40.44 -10.88,39.06C-12.08,37.68 -13.53,34.68 -13.70,32.74C-13.86,30.79 -13.05,28.65 -11.85,27.39C-10.65,26.13 -7.96,25.51 -6.50,25.20C-5.04,24.89 -3.83,25.38 -3.10,25.54C-2.37,25.71 -2.29,26.07 -2.13,26.18C-2.09,25.65 -2.37,24.07 -1.88,23.02C-1.40,21.96 -0.30,20.57 0.79,19.86C1.88,19.14 3.30,18.70 4.68,18.74C6.06,18.78 7.84,19.22 9.06,20.10C10.27,20.97 11.41,22.93 11.97,23.99C12.54,25.04 12.38,26.01 12.46,26.42C14.00,26.56 15.70,26.89 16.83,28.12C17.97,29.35 19.59,32.05 19.75,33.71C19.91,35.37 19.35,36.79 17.81,38.09C16.27,39.38 12.70,41.08 10.51,41.49C8.33,41.89 6.60,41.16 4.68,40.52C2.76,39.87 -0.06,38.09 -1.01,37.60Z" fill="#fafafa"/><path d="M6.62,30.55C6.87,30.15 7.43,28.77 8.08,28.12C8.73,27.47 9.70,26.96 10.51,26.66C11.32,26.36 11.89,26.08 12.94,26.32" fill="none"/></g></g>
<g transform="translate(1094.50,134)"><g transform="translate(-3.4,22.8)"><g stroke="#7f7f66" stroke-opacity="0.5" stroke-width="4.5"><line x1="7.7" y1="2.0" x2="19.1" y2="5.0"/><line x1="4.2" y1="6.8" x2="10.4" y2="16.7"/><line x1="-1.9" y1="7.8" x2="-4.7" y2="19.1"/><line x1="-6.9" y1="4.1" x2="-16.9" y2="10.1"/><line x1="-7.8" y1="-1.7" x2="-19.2" y2="-4.2"/><line x1="-4.4" y1="-6.7" x2="-10.9" y2="-16.4"/><line x1="1.9" y1="-7.8" x2="4.6" y2="-19.2"/><line x1="6.9" y1="-4.0" x2="17.0" y2="-9.9"/></g><g stroke="#f6ee1a" stroke-width="3.1"><line x1="7.7" y1="2.0" x2="18.5" y2="4.8"/><line x1="4.2" y1="6.8" x2="10.1" y2="16.2"/><line x1="-1.9" y1="7.8" x2="-4.5" y2="18.6"/><line x1="-6.9" y1="4.1" x2="-16.4" y2="9.8"/><line x1="-7.8" y1="-1.7" x2="-18.7" y2="-4.1"/><line x1="-4.4" y1="-6.7" x2="-10.5" y2="-15.9"/><line x1="1.9" y1="-7.8" x2="4.5" y2="-18.6"/><line x1="6.9" y1="-4.0" x2="16.5" y2="-9.6"/></g><circle r="9.45" fill="#f2ea1e" stroke="#f7a428" stroke-width="1.1"/></g><g stroke="#2056ab" stroke-width="2.6" stroke-linejoin="round" stroke-linecap="round"><path d="M6.03,38.00C5.69,38.21 4.70,38.94 4.00,39.25C3.30,39.56 2.70,39.98 1.81,39.88C0.93,39.77 -0.48,39.61 -1.31,38.62C-2.15,37.64 -3.08,35.40 -3.19,33.94C-3.29,32.48 -2.72,30.84 -1.94,29.88C-1.16,28.91 0.46,28.36 1.50,28.16C2.54,27.95 3.69,28.39 4.31,28.62C4.94,28.86 5.09,29.41 5.25,29.56C5.30,29.15 5.20,27.87 5.56,27.06C5.93,26.26 6.66,25.29 7.44,24.72C8.22,24.15 9.26,23.65 10.25,23.62C11.24,23.60 12.49,23.99 13.38,24.56C14.26,25.14 15.09,26.22 15.56,27.06C16.03,27.91 16.08,29.20 16.19,29.62C16.97,29.65 18.09,29.57 19.00,30.34C19.91,31.11 21.40,33.03 21.66,34.25C21.92,35.47 21.68,36.67 20.56,37.69C19.44,38.70 16.66,39.98 14.94,40.34C13.22,40.71 11.73,40.27 10.25,39.88C8.77,39.48 6.73,38.31 6.03,38.00Z" fill="#fafafa"/><path d="M11.81,32.69C11.97,32.43 12.33,31.54 12.75,31.12C13.17,30.71 13.74,30.44 14.31,30.19C14.89,29.94 15.41,29.60 16.19,29.62" fill="none"/></g></g>
</g>
<clipPath id="cp1"><rect x="69.5" y="417.5" width="1025.0" height="197.0"/></clipPath>
<line x1="69.5" x2="1094.5" y1="600.45" y2="600.45" stroke="#2a2a2a" stroke-width="1"/>
<g stroke="#222" stroke-width="1"><line x1="69.5" x2="75.0" y1="609.41" y2="609.41"/><line x1="69.5" x2="75.0" y1="591.49" y2="591.49"/><line x1="69.5" x2="75.0" y1="582.53" y2="582.53"/><line x1="69.5" x2="75.0" y1="573.57" y2="573.57"/><line x1="69.5" x2="75.0" y1="564.61" y2="564.61"/><line x1="69.5" x2="75.0" y1="546.69" y2="546.69"/><line x1="69.5" x2="75.0" y1="537.73" y2="537.73"/><line x1="69.5" x2="75.0" y1="528.77" y2="528.77"/><line x1="69.5" x2="75.0" y1="519.81" y2="519.81"/><line x1="69.5" x2="75.0" y1="501.89" y2="501.89"/><line x1="69.5" x2="75.0" y1="492.93" y2="492.93"/><line x1="69.5" x2="75.0" y1="483.97" y2="483.97"/><line x1="69.5" x2="75.0" y1="475.01" y2="475.01"/><line x1="69.5" x2="75.0" y1="457.09" y2="457.09"/><line x1="69.5" x2="75.0" y1="448.13" y2="448.13"/><line x1="69.5" x2="75.0" y1="439.17" y2="439.17"/><line x1="69.5" x2="75.0" y1="430.21" y2="430.21"/></g>
<g clip-path="url(#cp1)">
<polygon points="69.5,529.1 148.3,526.0 227.2,531.5 306.0,541.3 384.9,542.5 463.7,545.1 542.6,549.4 621.4,521.5 700.3,494.7 779.1,496.9 858.0,484.6 936.8,482.5 1015.7,491.5 1094.5,508.8 1094.5,572.9 1015.7,575.7 936.8,557.7 858.0,545.5 779.1,545.9 700.3,543.8 621.4,576.7 542.6,591.6 463.7,573.9 384.9,564.1 306.0,557.3 227.2,541.4 148.3,536.1 69.5,539.7" fill="#6495ed" fill-opacity="0.5"/>
<polygon points="69.5,458.8 148.3,455.3 227.2,463.3 306.0,461.3 384.9,470.9 463.7,482.2 542.6,475.0 621.4,468.6 700.3,460.6 779.1,456.4 858.0,456.4 936.8,453.5 1015.7,448.6 1094.5,460.2 1094.5,524.4 1015.7,533.4 936.8,531.5 858.0,517.1 779.1,504.8 700.3,509.0 621.4,523.8 542.6,516.6 463.7,511.5 384.9,492.0 306.0,477.5 227.2,473.2 148.3,465.4 69.5,470.1" fill="#32cd32" fill-opacity="0.4"/>
<g stroke="#000" stroke-opacity="0.165" stroke-width="2"><line x1="69.5" x2="1094.5" y1="421.25" y2="421.25"/><line x1="69.5" x2="1094.5" y1="466.05" y2="466.05"/><line x1="69.5" x2="1094.5" y1="510.85" y2="510.85"/><line x1="69.5" x2="1094.5" y1="555.65" y2="555.65"/><line x1="227.19" x2="227.19" y1="417.5" y2="614.5"/><line x1="384.88" x2="384.88" y1="417.5" y2="614.5"/><line x1="542.58" x2="542.58" y1="417.5" y2="614.5"/><line x1="700.27" x2="700.27" y1="417.5" y2="614.5"/><line x1="857.96" x2="857.96" y1="417.5" y2="614.5"/><line x1="1015.65" x2="1015.65" y1="417.5" y2="614.5"/></g>
<polyline points="69.5,464.5 148.3,460.6 227.2,468.5 306.0,469.7 384.9,481.0 463.7,496.5 542.6,496.0 621.4,495.7 700.3,485.1 779.1,479.5 858.0,485.9 936.8,493.0 1015.7,492.1 1094.5,492.1" fill="none" stroke="#ff0000" stroke-width="5.5" stroke-linejoin="round"/>
<polyline points="69.5,534.0 148.3,531.3 227.2,536.4 306.0,549.5 384.9,553.2 463.7,558.9 542.6,570.5 621.4,547.3 700.3,519.5 779.1,521.4 858.0,516.0 936.8,519.3 1015.7,531.5 1094.5,540.5" fill="none" stroke="#1e90ff" stroke-width="5.5" stroke-linejoin="round"/>
</g>
<rect x="69.5" y="417.5" width="1025.0" height="197.0" fill="none" stroke="#242424" stroke-width="1.2"/>
<g stroke="#000" stroke-opacity="0.165" stroke-width="2"><line x1="69.5" x2="1094.5" y1="753.5" y2="753.5"/><line x1="69.5" x2="1094.5" y1="825.8" y2="825.8"/><line x1="227.19" x2="227.19" y1="700.5" y2="897.4"/><line x1="384.88" x2="384.88" y1="700.5" y2="897.4"/><line x1="542.58" x2="542.58" y1="700.5" y2="897.4"/><line x1="700.27" x2="700.27" y1="700.5" y2="897.4"/><line x1="857.96" x2="857.96" y1="700.5" y2="897.4"/><line x1="1015.65" x2="1015.65" y1="700.5" y2="897.4"/></g>
<clipPath id="cp2"><rect x="69.5" y="700.5" width="1025.0" height="197.89999999999998"/></clipPath>
<g clip-path="url(#cp2)" stroke="#222" stroke-width="1.5"><line x1="59.20" x2="79.80" y1="896.6999999999999" y2="896.6999999999999"/><line x1="138.05" x2="158.65" y1="896.6999999999999" y2="896.6999999999999"/><line x1="216.89" x2="237.49" y1="896.6999999999999" y2="896.6999999999999"/><line x1="295.74" x2="316.34" y1="896.6999999999999" y2="896.6999999999999"/><line x1="374.58" x2="395.18" y1="896.6999999999999" y2="896.6999999999999"/><line x1="453.43" x2="474.03" y1="896.6999999999999" y2="896.6999999999999"/><line x1="532.28" x2="552.88" y1="896.6999999999999" y2="896.6999999999999"/><line x1="611.12" x2="631.72" y1="896.6999999999999" y2="896.6999999999999"/><line x1="689.97" x2="710.57" y1="896.6999999999999" y2="896.6999999999999"/><line x1="768.82" x2="789.42" y1="896.6999999999999" y2="896.6999999999999"/><line x1="847.66" x2="868.26" y1="896.6999999999999" y2="896.6999999999999"/><line x1="926.51" x2="947.11" y1="896.6999999999999" y2="896.6999999999999"/><line x1="1005.35" x2="1025.95" y1="896.6999999999999" y2="896.6999999999999"/><line x1="1084.20" x2="1104.80" y1="896.6999999999999" y2="896.6999999999999"/></g>
<rect x="69.5" y="700.5" width="1025.0" height="196.89999999999998" fill="none" stroke="#242424" stroke-width="1.2"/>
</svg>
<div id="txt">
<div class="t b" style="left:9.40px;top:8.86px;font-size:16px;">(kraj lahko izberete v meniju)</div>
<div class="t b" style="left:398.90px;top:17.46px;font-size:27.1px;">Ljubljana 14 dni</div>
<div class="t b" style="left:860.90px;top:8.94px;font-size:15.9px;">Zadnja posodobitev: 14.10.2025 - 08:24</div>
<div class="t " style="left:488.00px;top:388.25px;font-size:23.8px;">Temperatura (°C)</div>
<div class="t " style="left:338.60px;top:648.24px;font-size:23.82px;">Količina padavin (mm) / Možnost padavin (%)</div>
<div class="t c" style="left:8.90px;width:120px;top:90.98px;font-size:19.4px;transform:scaleX(1.1498);color:#000;">tor</div>
<div class="t c" style="left:8.90px;width:120px;top:112.89px;font-size:19.5px;transform:scaleX(1.1111);color:#000;">14.10</div>
<div class="t c" style="left:8.90px;width:120px;top:199.81px;font-size:25.5px;transform:scaleX(1.0594);color:#cc0000;">15°</div>
<div class="t c" style="left:8.90px;width:120px;top:227.81px;font-size:25.5px;transform:scaleX(1.0737);color:#1e90ff;">7°</div>
<div class="t c" style="left:8.90px;width:120px;top:676.98px;font-size:19.4px;transform:scaleX(1.1498);color:#000;">tor</div>
<div class="t c" style="left:8.90px;width:120px;top:905.90px;font-size:25.4px;transform:scaleX(1.0034);color:#5bcfe6;">5%</div>
<div class="t c" style="left:87.75px;width:120px;top:90.98px;font-size:19.4px;transform:scaleX(1.0418);color:#000;">sre</div>
<div class="t c" style="left:87.75px;width:120px;top:112.89px;font-size:19.5px;transform:scaleX(1.1111);color:#000;">15.10</div>
<div class="t c" style="left:87.75px;width:120px;top:199.81px;font-size:25.5px;transform:scaleX(1.0594);color:#cc0000;">16°</div>
<div class="t c" style="left:87.75px;width:120px;top:227.81px;font-size:25.5px;transform:scaleX(1.0737);color:#1e90ff;">8°</div>
<div class="t c" style="left:87.75px;width:120px;top:676.98px;font-size:19.4px;transform:scaleX(1.0418);color:#000;">sre</div>
<div class="t c" style="left:87.75px;width:120px;top:905.90px;font-size:25.4px;transform:scaleX(1.0034);color:#5bcfe6;">0%</div>
<div class="t c" style="left:166.59px;width:120px;top:90.98px;font-size:19.4px;transform:scaleX(1.1069);color:#000;">čet</div>
<div class="t c" style="left:166.59px;width:120px;top:112.89px;font-size:19.5px;transform:scaleX(1.1111);color:#000;">16.10</div>
<div class="t c" style="left:166.59px;width:120px;top:199.81px;font-size:25.5px;transform:scaleX(1.0594);color:#cc0000;">15°</div>
<div class="t c" style="left:166.59px;width:120px;top:227.81px;font-size:25.5px;transform:scaleX(1.0737);color:#1e90ff;">7°</div>
<div class="t c" style="left:166.59px;width:120px;top:676.98px;font-size:19.4px;transform:scaleX(1.1069);color:#000;">čet</div>
<div class="t c" style="left:166.59px;width:120px;top:905.90px;font-size:25.4px;transform:scaleX(1.0034);color:#5bcfe6;">0%</div>
<div class="t c" style="left:245.44px;width:120px;top:90.98px;font-size:19.4px;transform:scaleX(1.1199);color:#000;">pet</div>
<div class="t c" style="left:245.44px;width:120px;top:112.89px;font-size:19.5px;transform:scaleX(1.1111);color:#000;">17.10</div>
<div class="t c" style="left:245.44px;width:120px;top:199.81px;font-size:25.5px;transform:scaleX(1.0594);color:#cc0000;">15°</div>
<div class="t c" style="left:245.44px;width:120px;top:227.81px;font-size:25.5px;transform:scaleX(1.0737);color:#1e90ff;">6°</div>
<div class="t c" style="left:245.44px;width:120px;top:676.98px;font-size:19.4px;transform:scaleX(1.1199);color:#000;">pet</div>
<div class="t c" style="left:245.44px;width:120px;top:905.90px;font-size:25.4px;transform:scaleX(1.0034);color:#5bcfe6;">0%</div>
<div class="t c" style="left:324.28px;width:120px;top:90.98px;font-size:19.4px;transform:scaleX(1.0400);color:#cc0000;">sob</div>
<div class="t c" style="left:324.28px;width:120px;top:112.89px;font-size:19.5px;transform:scaleX(1.1111);color:#cc0000;">18.10</div>
<div class="t c" style="left:324.28px;width:120px;top:199.81px;font-size:25.5px;transform:scaleX(1.0594);color:#cc0000;">13°</div>
<div class="t c" style="left:324.28px;width:120px;top:227.81px;font-size:25.5px;transform:scaleX(1.0737);color:#1e90ff;">5°</div>
<div class="t c" style="left:324.28px;width:120px;top:676.98px;font-size:19.4px;transform:scaleX(1.0400);color:#000;">sob</div>
<div class="t c" style="left:324.28px;width:120px;top:905.90px;font-size:25.4px;transform:scaleX(1.0034);color:#5bcfe6;">5%</div>
<div class="t c" style="left:403.13px;width:120px;top:90.98px;font-size:19.4px;transform:scaleX(1.0710);color:#cc0000;">ned</div>
<div class="t c" style="left:403.13px;width:120px;top:112.89px;font-size:19.5px;transform:scaleX(1.1111);color:#cc0000;">19.10</div>
<div class="t c" style="left:403.13px;width:120px;top:199.81px;font-size:25.5px;transform:scaleX(1.0594);color:#cc0000;">12°</div>
<div class="t c" style="left:403.13px;width:120px;top:227.81px;font-size:25.5px;transform:scaleX(1.0737);color:#1e90ff;">5°</div>
<div class="t c" style="left:403.13px;width:120px;top:676.98px;font-size:19.4px;transform:scaleX(1.0710);color:#000;">ned</div>
<div class="t c" style="left:403.13px;width:120px;top:905.90px;font-size:25.4px;transform:scaleX(1.0034);color:#5bcfe6;">0%</div>
<div class="t c" style="left:481.98px;width:120px;top:90.98px;font-size:19.4px;transform:scaleX(1.0690);color:#000;">pon</div>
<div class="t c" style="left:481.98px;width:120px;top:112.89px;font-size:19.5px;transform:scaleX(1.1111);color:#000;">20.10</div>
<div class="t c" style="left:481.98px;width:120px;top:199.81px;font-size:25.5px;transform:scaleX(1.0594);color:#cc0000;">12°</div>
<div class="t c" style="left:481.98px;width:120px;top:227.81px;font-size:25.5px;transform:scaleX(1.0737);color:#1e90ff;">3°</div>
<div class="t c" style="left:481.98px;width:120px;top:676.98px;font-size:19.4px;transform:scaleX(1.0690);color:#000;">pon</div>
<div class="t c" style="left:481.98px;width:120px;top:905.90px;font-size:25.4px;transform:scaleX(1.0152);color:#2b96d2;">10%</div>
<div class="t c" style="left:560.82px;width:120px;top:90.98px;font-size:19.4px;transform:scaleX(1.1498);color:#000;">tor</div>
<div class="t c" style="left:560.82px;width:120px;top:112.89px;font-size:19.5px;transform:scaleX(1.1111);color:#000;">21.10</div>
<div class="t c" style="left:560.82px;width:120px;top:199.81px;font-size:25.5px;transform:scaleX(1.0594);color:#cc0000;">12°</div>
<div class="t c" style="left:560.82px;width:120px;top:227.81px;font-size:25.5px;transform:scaleX(1.0737);color:#1e90ff;">6°</div>
<div class="t c" style="left:560.82px;width:120px;top:676.98px;font-size:19.4px;transform:scaleX(1.1498);color:#000;">tor</div>
<div class="t c" style="left:560.82px;width:120px;top:905.90px;font-size:25.4px;transform:scaleX(1.0152);color:#2b96d2;">45%</div>
<div class="t c" style="left:639.67px;width:120px;top:90.98px;font-size:19.4px;transform:scaleX(1.0418);color:#000;">sre</div>
<div class="t c" style="left:639.67px;width:120px;top:112.89px;font-size:19.5px;transform:scaleX(1.1111);color:#000;">22.10</div>
<div class="t c" style="left:639.67px;width:120px;top:199.81px;font-size:25.5px;transform:scaleX(1.0594);color:#cc0000;">13°</div>
<div class="t c" style="left:639.67px;width:120px;top:227.81px;font-size:25.5px;transform:scaleX(1.0737);color:#1e90ff;">9°</div>
<div class="t c" style="left:639.67px;width:120px;top:676.98px;font-size:19.4px;transform:scaleX(1.0418);color:#000;">sre</div>
<div class="t c" style="left:639.67px;width:120px;top:905.90px;font-size:25.4px;transform:scaleX(1.0152);color:#1763bd;">50%</div>
<div class="t c" style="left:718.52px;width:120px;top:90.98px;font-size:19.4px;transform:scaleX(1.1069);color:#000;">čet</div>
<div class="t c" style="left:718.52px;width:120px;top:112.89px;font-size:19.5px;transform:scaleX(1.1111);color:#000;">23.10</div>
<div class="t c" style="left:718.52px;width:120px;top:199.81px;font-size:25.5px;transform:scaleX(1.0594);color:#cc0000;">13°</div>
<div class="t c" style="left:718.52px;width:120px;top:227.81px;font-size:25.5px;transform:scaleX(1.0737);color:#1e90ff;">9°</div>
<div class="t c" style="left:718.52px;width:120px;top:676.98px;font-size:19.4px;transform:scaleX(1.1069);color:#000;">čet</div>
<div class="t c" style="left:718.52px;width:120px;top:905.90px;font-size:25.4px;transform:scaleX(1.0152);color:#2b96d2;">30%</div>
<div class="t c" style="left:797.36px;width:120px;top:90.98px;font-size:19.4px;transform:scaleX(1.1199);color:#000;">pet</div>
<div class="t c" style="left:797.36px;width:120px;top:112.89px;font-size:19.5px;transform:scaleX(1.1111);color:#000;">24.10</div>
<div class="t c" style="left:797.36px;width:120px;top:199.81px;font-size:25.5px;transform:scaleX(1.0594);color:#cc0000;">13°</div>
<div class="t c" style="left:797.36px;width:120px;top:227.81px;font-size:25.5px;transform:scaleX(1.0737);color:#1e90ff;">9°</div>
<div class="t c" style="left:797.36px;width:120px;top:676.98px;font-size:19.4px;transform:scaleX(1.1199);color:#000;">pet</div>
<div class="t c" style="left:797.36px;width:120px;top:905.90px;font-size:25.4px;transform:scaleX(1.0152);color:#2b96d2;">45%</div>
<div class="t c" style="left:876.21px;width:120px;top:90.98px;font-size:19.4px;transform:scaleX(1.0400);color:#cc0000;">sob</div>
<div class="t c" style="left:876.21px;width:120px;top:112.89px;font-size:19.5px;transform:scaleX(1.1111);color:#cc0000;">25.10</div>
<div class="t c" style="left:876.21px;width:120px;top:199.81px;font-size:25.5px;transform:scaleX(1.0594);color:#cc0000;">12°</div>
<div class="t c" style="left:876.21px;width:120px;top:227.81px;font-size:25.5px;transform:scaleX(1.0737);color:#1e90ff;">9°</div>
<div class="t c" style="left:876.21px;width:120px;top:676.98px;font-size:19.4px;transform:scaleX(1.0400);color:#000;">sob</div>
<div class="t c" style="left:876.21px;width:120px;top:905.90px;font-size:25.4px;transform:scaleX(1.0152);color:#1763bd;">50%</div>
<div class="t c" style="left:955.05px;width:120px;top:90.98px;font-size:19.4px;transform:scaleX(1.0710);color:#cc0000;">ned</div>
<div class="t c" style="left:955.05px;width:120px;top:112.89px;font-size:19.5px;transform:scaleX(1.1111);color:#cc0000;">26.10</div>
<div class="t c" style="left:955.05px;width:120px;top:199.81px;font-size:25.5px;transform:scaleX(1.0594);color:#cc0000;">12°</div>
<div class="t c" style="left:955.05px;width:120px;top:227.81px;font-size:25.5px;transform:scaleX(1.0737);color:#1e90ff;">8°</div>
<div class="t c" style="left:955.05px;width:120px;top:676.98px;font-size:19.4px;transform:scaleX(1.0710);color:#000;">ned</div>
<div class="t c" style="left:955.05px;width:120px;top:905.90px;font-size:25.4px;transform:scaleX(1.0152);color:#2b96d2;">45%</div>
<div class="t c" style="left:1033.90px;width:120px;top:90.98px;font-size:19.4px;transform:scaleX(1.0690);color:#000;">pon</div>
<div class="t c" style="left:1033.90px;width:120px;top:112.89px;font-size:19.5px;transform:scaleX(1.1111);color:#000;">27.10</div>
<div class="t c" style="left:1033.90px;width:120px;top:199.81px;font-size:25.5px;transform:scaleX(1.0594);color:#cc0000;">12°</div>
<div class="t c" style="left:1033.90px;width:120px;top:227.81px;font-size:25.5px;transform:scaleX(1.0737);color:#1e90ff;">7°</div>
<div class="t c" style="left:1033.90px;width:120px;top:676.98px;font-size:19.4px;transform:scaleX(1.0690);color:#000;">pon</div>
<div class="t c" style="left:1033.90px;width:120px;top:905.90px;font-size:25.4px;transform:scaleX(1.0152);color:#2b96d2;">45%</div>
<div class="t r" style="left:-15.80px;width:80px;top:411.89px;font-size:19.5px;transform:scaleX(1.1109);">20</div>
<div class="t r" style="left:-15.80px;width:80px;top:456.89px;font-size:19.5px;transform:scaleX(1.1109);">15</div>
<div class="t r" style="left:-15.80px;width:80px;top:501.89px;font-size:19.5px;transform:scaleX(1.1109);">10</div>
<div class="t r" style="left:-15.80px;width:80px;top:546.89px;font-size:19.5px;transform:scaleX(1.1100);">5</div>
<div class="t r" style="left:-15.80px;width:80px;top:591.89px;font-size:19.5px;transform:scaleX(1.1100);">0</div>
<div class="t r" style="left:-16.00px;width:80px;top:745.89px;font-size:19.5px;transform:scaleX(1.1006);">0.04</div>
<div class="t r" style="left:-16.00px;width:80px;top:816.89px;font-size:19.5px;transform:scaleX(1.1006);">0.02</div>
<div class="t r" style="left:-16.00px;width:80px;top:876.89px;font-size:19.5px;transform:scaleX(1.1006);">0.00</div>
<div class="t b" style="left:749.00px;top:468.16px;font-size:18px;z-index:5;transform-origin:0 50%;transform:scaleX(1.076);">© vreme.us &amp; vreme.pro</div>
</div>
</body></html>
